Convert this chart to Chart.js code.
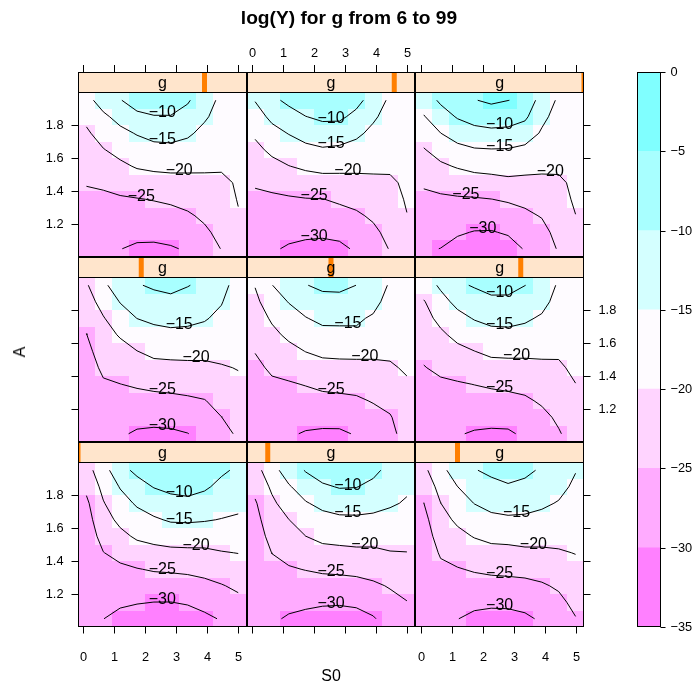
<!DOCTYPE html>
<html>
<head>
<meta charset="utf-8">
<script src="https://cdn.jsdelivr.net/npm/chart.js"></script>
<style>
html, body { margin: 0; padding: 0; background: #fff; }
#wrap { position: relative; width: 698px; height: 689px; overflow: hidden; }
#wrap canvas { position: absolute; left: 0; top: 0; }
.t { position: absolute; color: #000; white-space: nowrap; line-height: 1;
     font-family: "Liberation Sans", Arial, Helvetica, sans-serif; z-index: 5; }
#title { left: 0; width: 698px; top: 8px; text-align: center; font-weight: bold; font-size: 19.2px; }
#xlab { left: 78px; width: 506px; top: 668px; text-align: center; font-size: 16px; }
#ylab { left: 20px; top: 352px; font-size: 16px; transform: translate(-50%, -50%) rotate(-90deg); }
</style>
</head>
<body>
<div id="wrap">
  <div class="t" id="title">log(Y) for g from 6 to 99</div>
  <div class="t" id="xlab">S0</div>
  <div class="t" id="ylab">A</div>
</div>
<script>
// grid of the levelplot
var S0 = [0.1, 0.644, 1.189, 1.733, 2.278, 2.822, 3.367, 3.911, 4.456, 5.0];
var A = [1.95, 1.85, 1.75, 1.65, 1.55, 1.45, 1.35, 1.25, 1.15, 1.05];   // top row first
var G = [6, 17.625, 29.25, 40.875, 52.5, 64.125, 75.75, 87.375, 99];
var AT = [-35, -30, -25, -20, -15, -10, -5, 0];
var REGION_COLORS = ["#FF80FF", "#FFABFF", "#FFD4FF", "#FEFBFF", "#D4FFFF", "#A8FFFF", "#80FFFF"];
var X_TICKS = [0, 1, 2, 3, 4, 5];
var Y_TICKS = [1.2, 1.4, 1.6, 1.8];
var KEY_TICKS = [0, -5, -10, -15, -20, -25, -30, -35];

// log(Y) per panel, rows = A (top to bottom), cols = S0
var LOGY_G1 = [
  [-21.8, -17.1, -11.44, -9.0, -6.9, -5.7, -5.3, -6.7, -9.24, -10.76],
  [-23.95, -18.7, -14.7, -11.7, -9.8, -8.7, -8.2, -9.3, -11.2, -12.3],
  [-25.9, -20.3, -16.9, -14.4, -12.7, -11.7, -11.3, -12.0, -13.2, -13.9],
  [-26.8, -21.9, -18.9, -16.9, -15.6, -14.5, -14.4, -14.7, -15.15, -15.6],
  [-27.5, -23.5, -21.2, -19.3, -18.5, -17.9, -17.7, -17.6, -17.7, -17.8],
  [-28.0, -25.1, -23.7, -22.2, -21.5, -21.1, -21.0, -21.0, -20.25, -19.9],
  [-28.5, -26.3, -25.8, -25.2, -24.6, -24.4, -24.1, -23.7, -22.8, -22.1],
  [-29.0, -27.5, -27.6, -27.5, -27.4, -27.2, -26.9, -26.1, -25.26, -24.2],
  [-29.4, -28.7, -29.4, -29.75, -30.03, -30.05, -29.6, -28.5, -27.45, -26.1],
  [-29.8, -29.95, -31.1, -32.0, -32.6, -32.8, -32.0, -31.0, -29.65, -27.9]
];
var LOGY_G2 = [
  [-21.97, -16.8, -12.6, -9.7, -7.6, -6.5, -6.8, -8.8, -11.47, -12.05],
  [-23.6, -19.2, -15.46, -12.6, -10.7, -9.7, -9.85, -11.2, -13.0, -14.4],
  [-25.5, -20.9, -17.76, -15.35, -13.8, -12.9, -12.9, -13.6, -14.5, -15.4],
  [-26.5, -22.2, -20.05, -17.7, -16.5, -15.9, -15.8, -15.95, -16.35, -16.9],
  [-27.2, -23.6, -21.85, -20.02, -18.8, -18.5, -18.3, -18.25, -18.3, -18.5],
  [-27.8, -24.93, -23.6, -22.4, -21.5, -21.2, -20.9, -20.94, -20.2, -20.08],
  [-28.3, -26.2, -25.4, -24.85, -24.3, -24.1, -23.8, -23.2, -22.4, -21.65],
  [-28.8, -27.3, -27.1, -27.0, -26.9, -26.8, -26.5, -25.76, -24.65, -23.4],
  [-29.2, -28.3, -28.7, -29.1, -29.4, -29.5, -29.1, -28.1, -26.4, -25.15],
  [-29.6, -29.3, -30.55, -31.2, -31.9, -32.1, -31.8, -30.4, -28.05, -26.9]
];
var LOGY_G3 = [
  [-20.95, -17.0, -11.6, -10.27, -9.0, -7.98, -8.9, -10.65, -12.0, -14.8],
  [-23.0, -18.5, -15.04, -12.6, -11.4, -10.5, -11.2, -12.45, -13.65, -15.9],
  [-25.05, -20.05, -17.1, -14.9, -13.6, -13.1, -13.45, -14.25, -15.3, -16.9],
  [-26.4, -21.55, -19.2, -17.3, -16.1, -15.7, -15.8, -16.3, -17.0, -17.9],
  [-27.3, -23.0, -21.2, -19.75, -18.8, -18.65, -18.3, -18.5, -18.7, -18.9],
  [-28.0, -24.5, -23.2, -22.2, -21.5, -21.3, -20.9, -20.8, -20.4, -19.87],
  [-28.6, -25.95, -25.26, -24.6, -24.1, -23.9, -23.7, -23.2, -22.4, -21.2],
  [-29.1, -27.3, -26.8, -26.7, -26.6, -26.45, -26.15, -25.5, -24.4, -22.5],
  [-29.5, -28.5, -28.4, -28.8, -29.1, -29.0, -28.5, -27.45, -26.1, -23.8],
  [-29.8, -29.6, -29.9, -31.15, -31.6, -31.55, -30.85, -29.36, -27.7, -25.2]
];
var LOGY_G4 = [
  [-20.5, -16.0, -12.3, -10.35, -9.35, -8.75, -9.8, -11.05, -13.0, -17.5],
  [-22.05, -18.25, -14.8, -12.6, -11.7, -11.15, -11.9, -12.8, -14.7, -18.0],
  [-23.6, -20.3, -17.2, -14.95, -14.06, -13.6, -13.9, -14.6, -16.1, -18.5],
  [-25.1, -21.6, -19.6, -17.5, -16.5, -16.05, -16.15, -16.6, -17.5, -19.0],
  [-26.2, -22.9, -21.5, -20.07, -18.9, -18.7, -18.6, -19.2, -18.9, -19.5],
  [-27.0, -24.2, -23.2, -22.2, -21.4, -21.2, -21.1, -20.63, -20.3, -19.85],
  [-27.7, -25.5, -25.05, -24.5, -24.0, -23.7, -23.4, -22.8, -21.8, -20.7],
  [-28.3, -26.6, -26.5, -26.5, -26.3, -26.1, -25.7, -25.2, -23.4, -21.8],
  [-28.9, -27.6, -28.0, -28.45, -28.6, -28.4, -27.8, -27.0, -25.06, -23.0],
  [-29.4, -28.6, -29.4, -30.6, -30.9, -30.75, -30.1, -28.6, -26.6, -24.3]
];
var LOGY_G5 = [
  [-19.8, -15.1, -12.6, -10.16, -9.1, -9.0, -10.02, -11.8, -15.6, -17.0],
  [-21.1, -17.3, -14.8, -12.8, -11.5, -11.37, -12.2, -13.7, -16.6, -17.5],
  [-22.35, -19.4, -17.0, -15.2, -13.9, -13.85, -14.4, -15.5, -17.5, -18.0],
  [-23.6, -21.1, -19.1, -17.6, -16.4, -16.35, -15.7, -17.3, -18.4, -18.5],
  [-24.85, -22.7, -21.3, -19.9, -19.0, -18.85, -18.9, -19.1, -19.4, -19.0],
  [-26.0, -24.3, -23.4, -22.4, -21.5, -21.3, -21.15, -20.95, -20.4, -19.6],
  [-27.0, -25.7, -25.4, -24.8, -24.0, -23.7, -23.5, -22.8, -21.7, -20.4],
  [-27.8, -26.8, -26.8, -26.7, -26.3, -26.1, -25.7, -24.7, -23.2, -21.0],
  [-28.5, -27.8, -28.2, -28.5, -28.5, -28.4, -27.7, -26.6, -25.45, -21.6],
  [-29.2, -28.8, -29.5, -30.35, -30.7, -30.7, -29.67, -28.4, -26.9, -22.15]
];
var LOGY_G6 = [
  [-17.5, -14.25, -10.8, -9.6, -8.45, -8.5, -9.95, -11.2, -15.83, -16.5],
  [-20.33, -16.6, -13.76, -12.15, -11.05, -11.05, -12.1, -13.5, -16.75, -17.0],
  [-21.55, -18.8, -16.4, -14.7, -13.7, -13.6, -14.3, -15.6, -17.7, -17.5],
  [-22.8, -20.8, -18.8, -17.4, -16.4, -16.2, -16.6, -17.4, -18.6, -18.0],
  [-24.0, -22.5, -21.1, -20.05, -19.0, -18.9, -18.9, -19.15, -19.5, -18.6],
  [-25.2, -24.1, -23.2, -22.5, -21.7, -21.5, -21.5, -20.9, -20.5, -19.3],
  [-26.2, -25.7, -25.4, -24.93, -24.4, -24.0, -23.6, -22.6, -21.75, -20.05],
  [-27.1, -26.9, -26.9, -26.75, -26.6, -26.3, -25.7, -24.4, -22.95, -21.0],
  [-28.0, -27.9, -28.4, -28.55, -28.6, -28.5, -27.5, -26.2, -24.2, -22.0],
  [-28.9, -28.9, -29.7, -30.4, -30.7, -30.6, -29.27, -27.9, -25.4, -22.9]
];
var LOGY_G7 = [
  [-16.5, -12.9, -10.3, -7.3, -6.9, -6.9, -9.4, -13.2, -15.9, -16.5],
  [-18.9, -15.9, -13.5, -11.4, -10.3, -10.3, -12.0, -14.4, -16.8, -17.0],
  [-20.7, -18.1, -16.2, -14.7, -13.5, -13.3, -14.3, -16.2, -17.7, -17.5],
  [-22.0, -20.2, -18.6, -17.2, -16.4, -16.2, -16.7, -17.8, -18.7, -18.0],
  [-23.4, -22.2, -20.9, -19.6, -19.1, -18.9, -19.05, -19.4, -19.6, -18.6],
  [-24.7, -24.1, -23.3, -22.4, -21.9, -21.6, -21.38, -20.9, -20.7, -19.65],
  [-26.1, -26.1, -25.5, -25.2, -24.8, -24.3, -23.5, -22.5, -21.7, -19.8],
  [-27.3, -27.8, -27.0, -27.0, -26.8, -26.4, -25.6, -24.2, -22.6, -20.25],
  [-28.5, -29.0, -28.5, -28.8, -28.8, -28.4, -27.6, -25.8, -23.7, -21.3],
  [-29.6, -29.8, -29.9, -30.7, -30.8, -30.4, -29.55, -27.4, -24.85, -22.4]
];
var LOGY_G8 = [
  [-14.8, -11.0, -9.0, -7.0, -5.9, -5.9, -8.5, -12.1, -15.9, -16.5],
  [-17.1, -13.9, -11.8, -10.1, -9.1, -9.1, -11.3, -14.3, -16.8, -17.0],
  [-19.3, -16.6, -14.8, -13.2, -12.2, -12.5, -14.1, -16.1, -17.7, -17.5],
  [-21.2, -19.0, -17.5, -16.2, -15.5, -15.9, -16.6, -17.7, -18.6, -18.0],
  [-22.9, -21.4, -20.1, -19.2, -18.7, -18.8, -19.0, -19.2, -19.5, -19.0],
  [-24.5, -23.8, -23.0, -22.2, -21.7, -21.6, -21.33, -20.9, -20.5, -19.45],
  [-26.0, -25.8, -25.5, -25.2, -25.1, -24.3, -23.6, -22.6, -21.6, -19.6],
  [-27.4, -27.4, -27.1, -27.1, -27.0, -26.6, -25.7, -24.3, -22.6, -20.1],
  [-28.7, -28.6, -28.8, -29.1, -29.2, -28.8, -27.6, -26.0, -23.6, -21.0],
  [-29.8, -29.5, -30.5, -31.1, -31.4, -31.0, -29.4, -27.6, -24.7, -22.0]
];
var LOGY_G9 = [
  [-12.7, -9.2, -6.2, -5.2, -4.2, -4.95, -5.6, -12.6, -15.6, -16.0],
  [-15.3, -12.2, -9.6, -8.2, -7.6, -8.0, -9.1, -14.0, -16.55, -16.6],
  [-17.8, -15.05, -13.0, -11.6, -11.1, -11.25, -12.7, -15.5, -17.5, -17.3],
  [-20.3, -18.0, -16.3, -15.4, -15.2, -15.3, -16.0, -17.3, -18.5, -18.0],
  [-22.3, -20.8, -19.6, -18.7, -18.4, -18.3, -18.6, -19.2, -19.4, -18.9],
  [-24.3, -23.6, -22.8, -22.1, -21.7, -21.0, -21.2, -20.9, -20.6, -19.3],
  [-26.2, -25.7, -25.5, -25.4, -25.05, -24.5, -23.8, -22.8, -21.3, -19.5],
  [-27.5, -27.2, -27.6, -27.8, -27.6, -27.0, -26.0, -24.7, -22.3, -20.05],
  [-28.8, -28.6, -29.5, -30.2, -30.3, -29.5, -27.8, -26.6, -23.3, -21.0],
  [-29.5, -30.06, -31.5, -32.6, -32.9, -32.0, -29.65, -28.5, -24.4, -22.0]
];
var PANELS = [LOGY_G1, LOGY_G2, LOGY_G3, LOGY_G4, LOGY_G5, LOGY_G6, LOGY_G7, LOGY_G8, LOGY_G9];

// page layout
var W = 698, H = 689;
var LEFT0 = 78, PANEL_W = (584 - 78) / 3, TOP0 = 72, STRIP_H = 20, PANEL_H = 165;
var FONT = '"Liberation Sans", Arial, Helvetica, sans-serif';

function edgesOf(c) {
  var n = c.length, e = [c[0] - (c[1] - c[0]) / 2];
  for (var i = 0; i < n - 1; i++) e.push((c[i] + c[i + 1]) / 2);
  e.push(c[n - 1] + (c[n - 1] - c[n - 2]) / 2);
  return e;
}
var XE = edgesOf(S0), YE = edgesOf(A);

function colorFor(v) {
  for (var i = 0; i < REGION_COLORS.length; i++) if (v < AT[i + 1]) return REGION_COLORS[i];
  return REGION_COLORS[REGION_COLORS.length - 1];
}
function fmt(v) { return v < 0 ? '\u2212' + Math.abs(v) : String(v); }

// marching squares on the grid, segments chained into polylines
function contourLines(grid, level) {
  var nr = grid.length, nc = grid[0].length;
  var segs = [], pos = {};
  function edge(t, r, c) {
    var k = t + r + '_' + c;
    if (!pos[k]) {
      var a, b, f;
      if (t === 'h') {
        a = grid[r][c]; b = grid[r][c + 1]; f = (level - a) / (b - a);
        pos[k] = { x: S0[c] + f * (S0[c + 1] - S0[c]), y: A[r] };
      } else {
        a = grid[r][c]; b = grid[r + 1][c]; f = (level - a) / (b - a);
        pos[k] = { x: S0[c], y: A[r] + f * (A[r + 1] - A[r]) };
      }
    }
    return k;
  }
  for (var r = 0; r < nr - 1; r++) {
    for (var c = 0; c < nc - 1; c++) {
      var tl = grid[r][c] > level, tr = grid[r][c + 1] > level;
      var br = grid[r + 1][c + 1] > level, bl = grid[r + 1][c] > level;
      var e = [];
      if (tl !== tr) e.push(edge('h', r, c));
      if (tr !== br) e.push(edge('v', r, c + 1));
      if (br !== bl) e.push(edge('h', r + 1, c));
      if (bl !== tl) e.push(edge('v', r, c));
      if (e.length === 2) segs.push(e);
      else if (e.length === 4) {
        var mid = (grid[r][c] + grid[r][c + 1] + grid[r + 1][c] + grid[r + 1][c + 1]) / 4 > level;
        if (mid === tl) { segs.push([e[0], e[1]]); segs.push([e[2], e[3]]); }
        else { segs.push([e[0], e[3]]); segs.push([e[1], e[2]]); }
      }
    }
  }
  var byEdge = {}, used = [], lines = [];
  segs.forEach(function (s, i) {
    s.forEach(function (k) { (byEdge[k] = byEdge[k] || []).push(i); });
  });
  function walk(start) {
    var keys = [start], cur = start;
    while (true) {
      var next = byEdge[cur].filter(function (i) { return !used[i]; })[0];
      if (next === undefined) break;
      used[next] = true;
      var s = segs[next];
      cur = s[0] === cur ? s[1] : s[0];
      keys.push(cur);
    }
    return keys.map(function (k) { return { x: pos[k].x, y: pos[k].y }; });
  }
  Object.keys(byEdge).forEach(function (k) {
    if (byEdge[k].length === 1 && !used[byEdge[k][0]]) lines.push(walk(k));
  });
  segs.forEach(function (s, i) { if (!used[i]) lines.push(walk(s[0])); });
  return lines;
}

function hline(ctx, x1, x2, y) { ctx.beginPath(); ctx.moveTo(x1, y); ctx.lineTo(x2, y); ctx.stroke(); }
function vline(ctx, x, y1, y2) { ctx.beginPath(); ctx.moveTo(x, y1); ctx.lineTo(x, y2); ctx.stroke(); }

function panelPlugin(k, col, row) {
  return {
    id: 'panel' + k,
    beforeDatasetsDraw: function (chart) {
      var ctx = chart.ctx, xs = chart.scales.x, ys = chart.scales.y, grid = PANELS[k];
      for (var r = 0; r < A.length; r++) {
        for (var c = 0; c < S0.length; c++) {
          var x1 = Math.round(xs.getPixelForValue(XE[c])), x2 = Math.round(xs.getPixelForValue(XE[c + 1]));
          var y1 = Math.round(ys.getPixelForValue(YE[r])), y2 = Math.round(ys.getPixelForValue(YE[r + 1]));
          ctx.fillStyle = colorFor(grid[r][c]);
          ctx.fillRect(x1, y1, x2 - x1, y2 - y1);
        }
      }
    },
    afterDatasetsDraw: function (chart) {
      var ctx = chart.ctx, xs = chart.scales.x, ys = chart.scales.y, ca = chart.chartArea;
      ctx.save();
      // contour labels at the flattest segment
      ctx.fillStyle = '#000';
      ctx.font = '16px ' + FONT;
      ctx.textAlign = 'center';
      ctx.textBaseline = 'alphabetic';
      chart.data.datasets.forEach(function (ds) {
        var p = ds.data;
        if (p.length <= 5) return;
        var best = 0, bs = Infinity;
        for (var i = 0; i < p.length - 1; i++) {
          var dx = p[i + 1].x - p[i].x;
          var s = dx === 0 ? Infinity : Math.abs((p[i + 1].y - p[i].y) / dx);
          if (s < bs) { bs = s; best = i; }
        }
        var px = xs.getPixelForValue((p[best].x + p[best + 1].x) / 2);
        var py = ys.getPixelForValue((p[best].y + p[best + 1].y) / 2);
        ctx.fillText(fmt(ds.level), px, py + 2);
      });

      var L = Math.round(ca.left) + 0.5, R = Math.round(ca.right) - 0.5;
      var T = Math.round(ca.top) + 0.5, B = Math.round(ca.bottom) - 0.5;
      var ST = Math.round(ca.top - STRIP_H);

      // strip
      ctx.fillStyle = '#FFE5CC';
      ctx.fillRect(Math.round(ca.left), ST, Math.round(ca.right) - Math.round(ca.left), STRIP_H);
      ctx.save();
      ctx.beginPath();
      ctx.rect(Math.round(ca.left), ST, Math.round(ca.right) - Math.round(ca.left), STRIP_H);
      ctx.clip();
      var gx = chart.scales.g.getPixelForValue(G[k]);
      ctx.fillStyle = '#FF7F00';
      ctx.fillRect(gx - 2.5, ST, 5, STRIP_H);
      ctx.restore();
      ctx.fillStyle = '#000';
      ctx.font = '16px ' + FONT;
      ctx.textAlign = 'center';
      ctx.fillText('g', (ca.left + ca.right) / 2, ST + 15.5);

      // borders
      ctx.strokeStyle = '#000';
      ctx.lineWidth = 1;
      ctx.strokeRect(L, ST + 0.5, R - L, B - ST - 0.5);
      hline(ctx, L, R, T);

      // axes (alternating, as lattice does)
      ctx.font = '12.8px ' + FONT;
      var tk = 7, gap = 8;
      if (col === 0) {
        Y_TICKS.forEach(function (t) {
          var y = Math.round(ys.getPixelForValue(t)) + 0.5;
          hline(ctx, L - tk, L, y);
          if (row !== 1) {
            ctx.textAlign = 'right'; ctx.textBaseline = 'middle';
            ctx.fillText(fmt(t), L - tk - gap, y);
          }
        });
      }
      if (col === 2) {
        Y_TICKS.forEach(function (t) {
          var y = Math.round(ys.getPixelForValue(t)) + 0.5;
          hline(ctx, R, R + tk, y);
          if (row === 1) {
            ctx.textAlign = 'left'; ctx.textBaseline = 'middle';
            ctx.fillText(fmt(t), R + tk + gap, y);
          }
        });
      }
      if (row === 0) {
        X_TICKS.forEach(function (t) {
          var x = Math.round(xs.getPixelForValue(t)) + 0.5;
          vline(ctx, x, ST - tk, ST);
          if (col === 1) {
            ctx.textAlign = 'center'; ctx.textBaseline = 'alphabetic';
            ctx.fillText(fmt(t), x, ST - tk - 8);
          }
        });
      }
      if (row === 2) {
        X_TICKS.forEach(function (t) {
          var x = Math.round(xs.getPixelForValue(t)) + 0.5;
          vline(ctx, x, B, B + tk);
          if (col !== 1) {
            ctx.textAlign = 'center'; ctx.textBaseline = 'middle';
            ctx.fillText(fmt(t), x, B + 31);
          }
        });
      }
      ctx.restore();
    }
  };
}

var wrap = document.getElementById('wrap');
function newCanvas() {
  var cv = document.createElement('canvas');
  cv.width = W; cv.height = H;
  wrap.insertBefore(cv, wrap.firstChild);
  return cv;
}

PANELS.forEach(function (grid, k) {
  var col = k % 3, row = 2 - Math.floor(k / 3);
  var left = LEFT0 + col * PANEL_W;
  var top = TOP0 + row * (STRIP_H + PANEL_H) + STRIP_H;
  var datasets = [];
  AT.slice(1, -1).forEach(function (lev) {
    contourLines(grid, lev).forEach(function (pts) {
      datasets.push({
        data: pts, level: lev, showLine: true, fill: false,
        borderColor: '#000', borderWidth: 1, tension: 0,
        pointRadius: 0, pointHoverRadius: 0
      });
    });
  });
  new Chart(newCanvas(), {
    type: 'scatter',
    data: { datasets: datasets },
    options: {
      responsive: false, animation: false, events: [],
      layout: { padding: { left: left, top: top, right: W - left - PANEL_W, bottom: H - top - PANEL_H } },
      plugins: { legend: { display: false }, tooltip: { enabled: false } },
      scales: {
        x: { type: 'linear', min: XE[0], max: XE[XE.length - 1], display: false },
        y: { type: 'linear', min: YE[YE.length - 1], max: YE[0], display: false },
        g: { type: 'linear', axis: 'x', min: G[0], max: G[G.length - 1], display: false }
      }
    },
    plugins: [panelPlugin(k, col, row)]
  });
});

// colour key
var KEY_L = 637, KEY_R = 661, KEY_T = 72, KEY_B = 627;
new Chart(newCanvas(), {
  type: 'bar',
  data: {
    labels: [''],
    datasets: REGION_COLORS.map(function (c, i) {
      return { data: [[AT[i], AT[i + 1]]], backgroundColor: c, borderWidth: 0,
               grouped: false, barPercentage: 1, categoryPercentage: 1 };
    })
  },
  options: {
    responsive: false, animation: false, events: [],
    layout: { padding: { left: KEY_L, top: KEY_T, right: W - KEY_R, bottom: H - KEY_B } },
    plugins: { legend: { display: false }, tooltip: { enabled: false } },
    scales: {
      x: { display: false },
      y: { type: 'linear', min: AT[0], max: AT[AT.length - 1], display: false }
    }
  },
  plugins: [{
    id: 'key',
    afterDraw: function (chart) {
      var ctx = chart.ctx, ca = chart.chartArea, ys = chart.scales.y;
      ctx.save();
      ctx.strokeStyle = '#000'; ctx.lineWidth = 1;
      ctx.strokeRect(Math.round(ca.left) + 0.5, Math.round(ca.top) + 0.5,
                     Math.round(ca.right) - Math.round(ca.left) - 1, Math.round(ca.bottom) - Math.round(ca.top) - 1);
      ctx.fillStyle = '#000';
      ctx.font = '12.8px ' + FONT;
      ctx.textAlign = 'left'; ctx.textBaseline = 'middle';
      var R = Math.round(ca.right) - 0.5;
      KEY_TICKS.forEach(function (t) {
        var y = Math.round(ys.getPixelForValue(t)) + 0.5;
        hline(ctx, R, R + 5, y);
        ctx.fillText(fmt(t), R + 10, y);
      });
      ctx.restore();
    }
  }]
});
</script>
</body>
</html>
